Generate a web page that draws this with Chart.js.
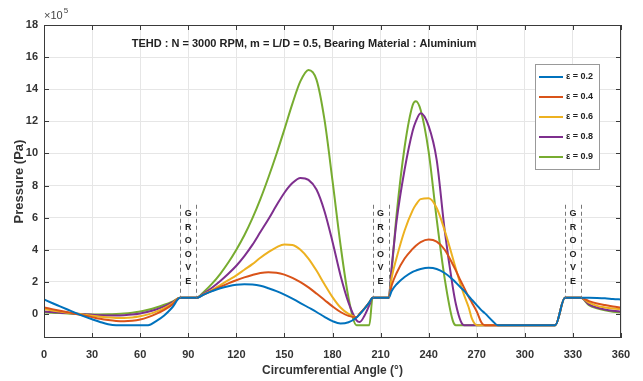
<!DOCTYPE html>
<html>
<head>
<meta charset="utf-8">
<script src="https://cdn.jsdelivr.net/npm/chart.js@4"></script>
<style>
  html, body { margin: 0; padding: 0; background: #fff; }
</style>
</head>
<body>
<canvas id="pressureChart" width="643" height="381"></canvas>
<script>
(() => {
  const canvas = document.getElementById('pressureChart');
  const ctx = canvas.getContext('2d');

  // circumferential angle (deg), shared by all curves
  const angles = [
    0, 5, 10, 15, 20, 25, 30, 35, 40, 45, 50, 55, 60, 65, 70, 75, 80, 85, 90, 95,
    100, 105, 110, 115, 120, 125, 130, 135, 140, 145, 150, 155, 160, 165, 170, 175, 180, 185, 190, 195,
    197, 200, 203, 205, 210, 215, 217,
    220, 225, 230, 232, 235, 240, 245, 250, 255, 257,
    260, 262, 265, 267, 270, 273, 275, 280, 283, 285,
    290, 295, 300, 305, 310, 315, 319, 325, 330, 335,
    340, 345, 350, 355, 360
  ];

  // pressure, x10^5 Pa
  const eps02 = [
    0.90, 0.68, 0.47, 0.26, 0.05, -0.15, -0.33, -0.50, -0.64, -0.70, -0.70, -0.70, -0.70, -0.70, -0.45, -0.10, 0.40, 1.00, 1.00, 1.00,
    1.22, 1.42, 1.60, 1.73, 1.82, 1.85, 1.83, 1.75, 1.60, 1.42, 1.20, 0.95, 0.68, 0.40, 0.12, -0.18, -0.45, -0.60, -0.52, -0.22,
    -0.02, 0.33, 0.72, 1.00, 1.00, 1.00, 1.45,
    1.85, 2.30, 2.62, 2.70, 2.80, 2.87, 2.80, 2.55, 2.15, 1.95,
    1.65, 1.45, 1.10, 0.88, 0.55, 0.22, 0.05, -0.45, -0.70, -0.70,
    -0.70, -0.70, -0.70, -0.70, -0.70, -0.70, -0.70, 1.00, 1.00, 1.00,
    1.00, 0.99, 0.97, 0.93, 0.90
  ];
  const eps04 = [
    0.40, 0.30, 0.20, 0.10, 0.00, -0.10, -0.20, -0.30, -0.38, -0.44, -0.46, -0.43, -0.35, -0.20, 0.00, 0.25, 0.58, 1.00, 1.00, 1.00,
    1.22, 1.45, 1.68, 1.90, 2.10, 2.28, 2.43, 2.55, 2.60, 2.57, 2.45, 2.25, 1.98, 1.65, 1.27, 0.87, 0.47, 0.12, -0.12, -0.20,
    0.02, 0.35, 0.72, 1.00, 1.00, 1.00, 1.80,
    2.55, 3.45, 4.05, 4.25, 4.48, 4.63, 4.50, 4.00, 3.10, 2.70,
    2.05, 1.65, 1.05, 0.70, 0.15, -0.55, -0.70, -0.70, -0.70, -0.70,
    -0.70, -0.70, -0.70, -0.70, -0.70, -0.70, -0.70, 1.00, 1.00, 1.00,
    0.80, 0.65, 0.55, 0.46, 0.40
  ];
  const eps06 = [
    0.30, 0.22, 0.15, 0.08, 0.02, -0.05, -0.12, -0.18, -0.22, -0.25, -0.25, -0.22, -0.15, -0.03, 0.14, 0.36, 0.65, 1.00, 1.00, 1.00,
    1.25, 1.50, 1.80, 2.10, 2.40, 2.75, 3.10, 3.50, 3.85, 4.15, 4.33, 4.30, 4.00, 3.45, 2.70, 1.85, 1.05, 0.40, 0.00, -0.20,
    0.02, 0.35, 0.72, 1.00, 1.00, 1.00, 2.30,
    3.50, 5.20, 6.45, 6.80, 7.15, 7.20, 6.60, 5.20, 3.50, 2.80,
    1.80, 1.20, 0.40, -0.30, -0.70, -0.70, -0.70, -0.70, -0.70, -0.70,
    -0.70, -0.70, -0.70, -0.70, -0.70, -0.70, -0.70, 1.00, 1.00, 1.00,
    0.70, 0.50, 0.40, 0.34, 0.30
  ];
  const eps08 = [
    0.15, 0.12, 0.08, 0.05, 0.02, -0.02, -0.05, -0.08, -0.10, -0.10, -0.08, -0.04, 0.03, 0.13, 0.28, 0.47, 0.72, 1.00, 1.00, 1.00,
    1.30, 1.65, 2.05, 2.50, 3.00, 3.60, 4.30, 5.10, 5.90, 6.75, 7.55, 8.15, 8.47, 8.35, 7.75, 6.40, 4.50, 2.40, 0.70, -0.40,
    -0.50, -0.10, 0.55, 1.00, 1.00, 1.00, 3.00,
    5.80, 9.00, 11.40, 12.00, 12.50, 11.70, 9.60, 5.20, 1.70, 0.60,
    -0.45, -0.70, -0.70, -0.70, -0.70, -0.70, -0.70, -0.70, -0.70, -0.70,
    -0.70, -0.70, -0.70, -0.70, -0.70, -0.70, -0.70, 1.00, 1.00, 1.00,
    0.60, 0.40, 0.28, 0.20, 0.15
  ];
  const eps09 = [
    0.10, 0.08, 0.05, 0.03, 0.00, -0.02, -0.03, -0.03, -0.02, 0.00, 0.03, 0.08, 0.15, 0.26, 0.40, 0.57, 0.77, 1.00, 1.00, 1.00,
    1.40, 1.90, 2.50, 3.20, 4.00, 4.90, 5.95, 7.15, 8.50, 9.95, 11.50, 13.10, 14.50, 15.20, 14.60, 12.10, 8.30, 4.30, 1.00, -0.70,
    -0.70, -0.70, -0.70, 1.00, 1.00, 1.00, 2.80,
    6.20, 10.40, 13.00, 13.25, 12.70, 10.10, 5.90, 2.20, -0.40, -0.70,
    -0.70, -0.70, -0.70, -0.70, -0.70, -0.70, -0.70, -0.70, -0.70, -0.70,
    -0.70, -0.70, -0.70, -0.70, -0.70, -0.70, -0.70, 1.00, 1.00, 1.00,
    0.55, 0.35, 0.22, 0.14, 0.10
  ];

  const seriesLabels = ['ε = 0.2', 'ε = 0.4', 'ε = 0.6', 'ε = 0.8', 'ε = 0.9'];
  const seriesValues = [eps02, eps04, eps06, eps08, eps09];
  const seriesColors = ['#0072BD', '#D95319', '#EDB120', '#7E2F8E', '#77AC30'];

  const xTicks = [0, 30, 60, 90, 120, 150, 180, 210, 240, 270, 300, 330, 360];
  const yTicks = [0, 2, 4, 6, 8, 10, 12, 14, 16, 18];
  const grooveCenters = [90, 210, 330];
  const grooveHalfWidth = 5;
  const grooveWord = 'GROOVE';
  const chartTitle = 'TEHD : N = 3000 RPM, m = L/D = 0.5, Bearing Material : Aluminium';

  const SANS = '"Liberation Sans", Arial, sans-serif';
  const NARROW = '"Liberation Sans Narrow", "Liberation Sans", Arial, sans-serif';

  // 홈, 제목, 범례, 테두리 그리기
  const decorations = {
    id: 'decorations',
    afterDatasetsDraw(chart) {
      const { ctx, scales: { x, y } } = chart;
      ctx.save();
      const top = y.getPixelForValue(6.8);
      const bot = y.getPixelForValue(1);
      grooveCenters.forEach(c => {
        ctx.strokeStyle = '#777';
        ctx.lineWidth = 1;
        ctx.setLineDash([4, 3]);
        [c - grooveHalfWidth, c + grooveHalfWidth].forEach(v => {
          const px = Math.round(x.getPixelForValue(v)) + 0.5;
          ctx.beginPath();
          ctx.moveTo(px, top);
          ctx.lineTo(px, bot);
          ctx.stroke();
        });
        ctx.setLineDash([]);
        ctx.fillStyle = '#222';
        ctx.font = 'bold 9px ' + SANS;
        ctx.textAlign = 'center';
        ctx.textBaseline = 'middle';
        const xc = x.getPixelForValue(c);
        grooveWord.split('').forEach((ch, i) => ctx.fillText(ch, xc, top + 9 + i * 13.5));
      });
      ctx.restore();
    },
    afterDraw(chart) {
      const { ctx, chartArea: a, scales: { x, y } } = chart;
      ctx.save();

      // box and inward ticks
      ctx.strokeStyle = '#3a3a3a';
      ctx.lineWidth = 1;
      ctx.strokeRect(a.left + 0.5, a.top + 0.5, a.right - a.left - 1, a.bottom - a.top - 1);
      ctx.beginPath();
      xTicks.forEach(v => {
        const px = Math.round(x.getPixelForValue(v)) + 0.5;
        ctx.moveTo(px, a.bottom); ctx.lineTo(px, a.bottom - 5);
        ctx.moveTo(px, a.top); ctx.lineTo(px, a.top + 5);
      });
      yTicks.forEach(v => {
        const py = Math.round(y.getPixelForValue(v)) + 0.5;
        ctx.moveTo(a.left, py); ctx.lineTo(a.left + 5, py);
        ctx.moveTo(a.right, py); ctx.lineTo(a.right - 5, py);
      });
      ctx.stroke();

      // title inside the plot
      ctx.fillStyle = '#222';
      ctx.font = 'bold 11px ' + NARROW;
      ctx.textAlign = 'center';
      ctx.textBaseline = 'middle';
      ctx.fillText(chartTitle, 304, 44);

      // axis titles
      ctx.font = 'bold 12px ' + NARROW;
      ctx.fillStyle = '#333';
      ctx.fillText('Circumferential Angle (°)', (a.left + a.right) / 2, 371);
      ctx.save();
      ctx.translate(19, (a.top + a.bottom) / 2);
      ctx.rotate(-Math.PI / 2);
      ctx.font = 'bold 13px ' + SANS;
      ctx.fillText('Pressure (Pa)', 0, 0);
      ctx.restore();

      // exponent
      ctx.textAlign = 'left';
      ctx.textBaseline = 'alphabetic';
      ctx.font = '11px ' + SANS;
      ctx.fillStyle = '#444';
      ctx.fillText('×10', a.left, a.top - 6);
      const w = ctx.measureText('×10').width;
      ctx.font = '8px ' + SANS;
      ctx.fillText('5', a.left + w + 1, a.top - 12);

      // legend
      const lx = 535, ly = 64, lw = 64, lh = 105;
      ctx.fillStyle = '#fff';
      ctx.fillRect(lx, ly, lw, lh);
      ctx.strokeStyle = '#999';
      ctx.strokeRect(lx + 0.5, ly + 0.5, lw, lh);
      ctx.font = 'bold 9px ' + NARROW;
      ctx.textBaseline = 'middle';
      chart.data.datasets.forEach((ds, i) => {
        const ry = ly + 13 + i * 20;
        ctx.strokeStyle = ds.borderColor;
        ctx.lineWidth = 2;
        ctx.beginPath();
        ctx.moveTo(lx + 4, ry);
        ctx.lineTo(lx + 28, ry);
        ctx.stroke();
        ctx.fillStyle = '#222';
        ctx.fillText(ds.label, lx + 31, ry);
      });
      ctx.restore();
    }
  };

  const tickFont = { family: SANS, size: 11, weight: 'bold' };

  new Chart(ctx, {
    type: 'line',
    data: {
      datasets: seriesValues.map((vals, i) => ({
        label: seriesLabels[i],
        data: angles.map((a, j) => ({ x: a, y: vals[j] })),
        borderColor: seriesColors[i],
        backgroundColor: seriesColors[i],
        borderWidth: 2,
        pointRadius: 0,
        cubicInterpolationMode: 'monotone',
        fill: false
      }))
    },
    options: {
      responsive: false,
      animation: false,
      layout: { padding: { top: 25, right: 22, left: 0, bottom: 0 } },
      scales: {
        x: {
          type: 'linear',
          min: 0,
          max: 360,
          afterBuildTicks: s => { s.ticks = xTicks.map(v => ({ value: v })); },
          afterFit: s => { s.height = 43; },
          grid: { color: '#e6e6e6', drawTicks: false },
          border: { display: false },
          ticks: { color: '#333', font: tickFont, padding: 10, maxRotation: 0 }
        },
        y: {
          type: 'linear',
          min: -1.5,
          max: 18,
          afterBuildTicks: s => { s.ticks = yTicks.map(v => ({ value: v })); },
          afterFit: s => { s.width = 44; },
          grid: { color: '#e6e6e6', drawTicks: false },
          border: { display: false },
          ticks: { color: '#333', font: tickFont, padding: 6 }
        }
      },
      plugins: {
        legend: { display: false },
        tooltip: { enabled: false }
      }
    },
    plugins: [decorations]
  });
})();
</script>
</body>
</html>
